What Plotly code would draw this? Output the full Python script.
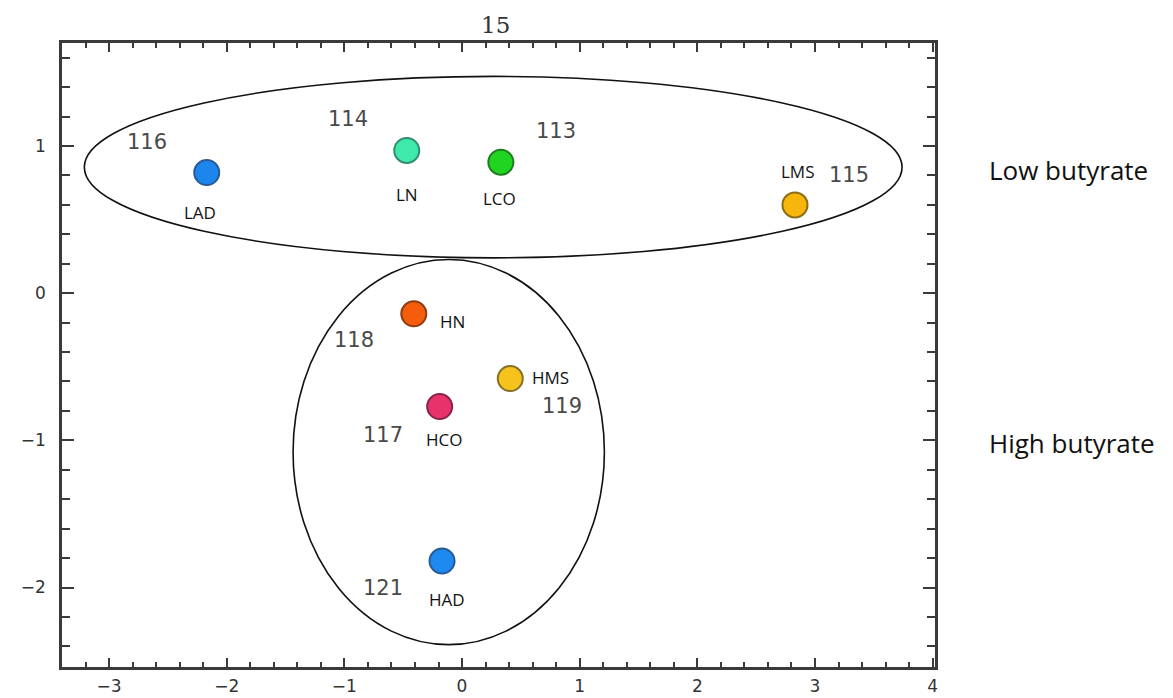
import plotly.graph_objects as go

# Sample scores on the first two components
samples = ["LAD", "LN", "LCO", "LMS", "HN", "HMS", "HCO", "HAD"]
sample_ids = ["116", "114", "113", "115", "118", "119", "117", "121"]
pc1 = [-2.17, -0.47, 0.33, 2.83, -0.41, 0.41, -0.19, -0.17]
pc2 = [0.82, 0.97, 0.89, 0.60, -0.14, -0.58, -0.77, -1.82]

x_ticks = [-3, -2, -1, 0, 1, 2, 3, 4]
y_ticks = [-2, -1, 0, 1]

# Marker fill / outline colours
fill_colors = ["#1c86ee", "#3fe8ab", "#22d422", "#f6b60c",
               "#f55c0c", "#f6c21c", "#e8326c", "#1c8af0"]
edge_colors = ["#2a5a92", "#2f8f6c", "#1f7d1f", "#8c6c14",
               "#8c3c12", "#85702a", "#8a2444", "#2a5a92"]

# Pixel offsets of the name labels and the id labels from each point
name_offsets = [(-7, -40), (0, -44), (-1, -36), (3, 33),
                (39, -8), (40, 1), (4, -33), (5, -38)]
id_offsets = [(-60, 31), (-59, 31), (55, 31), (54, 30),
              (-60, -26), (52, -27), (-57, -28), (-59, -27)]

# Cluster outlines (data units): x0, x1, y0, y1
low_group = (-3.21, 3.74, 0.24, 1.473)
high_group = (-1.436, 1.21, -2.388, 0.229)

fig = go.Figure()

for x0, x1, y0, y1 in (low_group, high_group):
    fig.add_shape(type="circle", xref="x", yref="y",
                  x0=x0, x1=x1, y0=y0, y1=y1,
                  line=dict(color="#111111", width=1.6), layer="below")

fig.add_trace(go.Scatter(
    x=pc1, y=pc2, mode="markers", text=samples,
    marker=dict(size=25, color=fill_colors,
                line=dict(color=edge_colors, width=2)),
    hovertemplate="%{text}: (%{x}, %{y})<extra></extra>",
    showlegend=False,
))

annotations = []
for name, sid, x, y, (ndx, ndy), (idx, idy) in zip(
        samples, sample_ids, pc1, pc2, name_offsets, id_offsets):
    annotations.append(dict(
        x=x, y=y, xref="x", yref="y", text=name, showarrow=False,
        xshift=ndx, yshift=ndy,
        font=dict(family="Open Sans", size=17, color="#111111")))
    annotations.append(dict(
        x=x, y=y, xref="x", yref="y", text=sid, showarrow=False,
        xshift=idx, yshift=idy,
        font=dict(family="DejaVu Sans", size=21, color="#4a4a4a")))

# Plot heading
annotations.append(dict(
    x=0.496, y=1, xref="paper", yref="paper", text="15", showarrow=False,
    yanchor="middle", yshift=18,
    font=dict(family="DejaVu Serif", size=23, color="#333333")))

# Group captions on the right
annotations.append(dict(
    x=1.0596, y=0.835, xref="paper", yref="y", text="Low butyrate",
    showarrow=False, xanchor="left",
    font=dict(family="Open Sans", size=26, color="#111111")))
annotations.append(dict(
    x=1.0596, y=-1.016, xref="paper", yref="y", text="High butyrate",
    showarrow=False, xanchor="left",
    font=dict(family="Open Sans", size=26, color="#111111")))

axis_common = dict(
    showgrid=False, zeroline=False, showline=True, linewidth=2.5,
    linecolor="#3a3a3a", mirror="ticks", ticks="inside", tickwidth=2,
    tickcolor="#3a3a3a", automargin=False,
    tickfont=dict(family="DejaVu Sans", size=17, color="#333333"),
)

fig.update_xaxes(
    range=[-3.40, 4.02], tickmode="array", tickvals=x_ticks,
    ticklen=9, ticklabelstandoff=2,
    minor=dict(dtick=0.2, tick0=0, ticks="inside", ticklen=5,
               tickwidth=2, tickcolor="#3a3a3a"),
    **axis_common)
fig.update_yaxes(
    range=[-2.54, 1.70], tickmode="array", tickvals=y_ticks,
    ticklen=12, ticklabelstandoff=10,
    minor=dict(dtick=0.2, tick0=0, ticks="inside", ticklen=8,
               tickwidth=2, tickcolor="#3a3a3a"),
    **axis_common)

fig.update_layout(
    width=1173, height=698,
    margin=dict(l=62, r=238, t=43, b=31),
    paper_bgcolor="white", plot_bgcolor="white",
    annotations=annotations,
    showlegend=False,
)

fig.write_html("out.html")
